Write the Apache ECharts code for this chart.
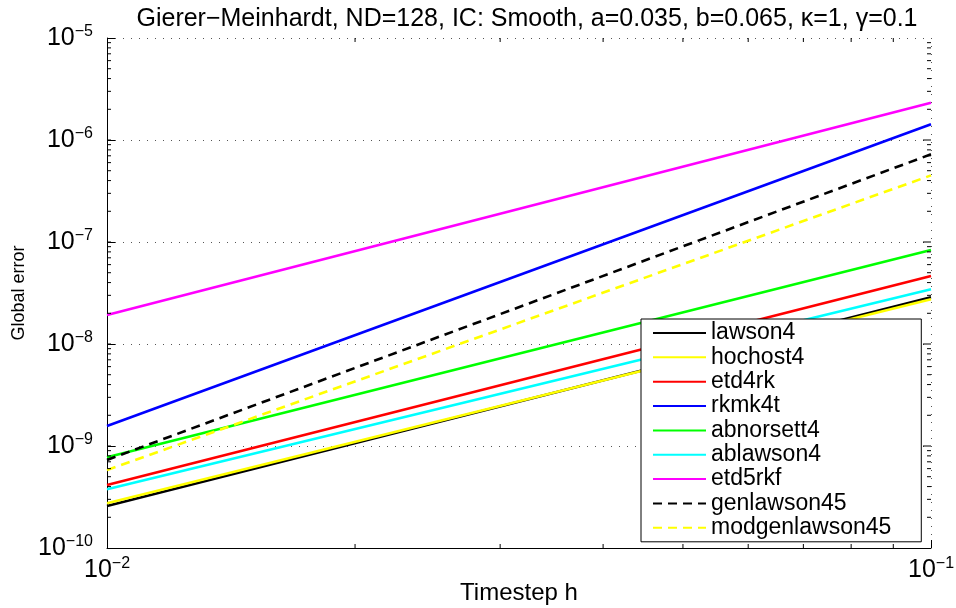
<!DOCTYPE html>
<html>
<head>
<meta charset="utf-8">
<script src="https://cdn.jsdelivr.net/npm/echarts@6/dist/echarts.min.js"></script>
<style>
  html, body { margin: 0; padding: 0; background: #fff; }
  #chart { width: 956px; height: 608px; }
</style>
</head>
<body>
<div id="chart"></div>
<script>
// timestep values (endpoints of each error curve)
const steps = [0.01, 0.1];

// global error per method
const lawson4 = [2.58e-10, 2.87e-8];
const hochost4 = [2.75e-10, 2.74e-8];
const etd4rk = [4.15e-10, 4.65e-8];
const rkmk4t = [1.57e-9, 1.43e-6];
const abnorsett4 = [7.75e-10, 8.35e-8];
const ablawson4 = [3.76e-10, 3.44e-8];
const etd5rkf = [1.92e-8, 2.32e-6];
const genlawson45 = [7.3e-10, 7.24e-7];
const modgenlawson45 = [5.8e-10, 4.5e-7];

const names = ["lawson4", "hochost4", "etd4rk", "rkmk4t", "abnorsett4",
  "ablawson4", "etd5rkf", "genlawson45", "modgenlawson45"];
const values = [lawson4, hochost4, etd4rk, rkmk4t, abnorsett4,
  ablawson4, etd5rkf, genlawson45, modgenlawson45];
const colors = ["#000000", "#ffff00", "#ff0000", "#0000ff", "#00ff00",
  "#00ffff", "#ff00ff", "#000000", "#ffff00"];
const dashed = [false, false, false, false, false, false, false, true, true];

// axis ranges (decades)
const xMin = 0.01, xMax = 0.1;
const yMin = 1e-10, yMax = 1e-5;

// minor tick positions 2..9 x 10^k
const xMinor = [];
for (let k = 2; k <= 9; k++) xMinor.push(k * 0.01);
const yMinor = [];
for (let e = -10; e <= -6; e++) {
  for (let k = 2; k <= 9; k++) yMinor.push(k * Math.pow(10, e));
}

const font = "'Liberation Sans', Arial, sans-serif";
const supLabel = (v) => {
  const e = Math.round(Math.log10(v));
  return "{b|10}{s|" + (e < 0 ? "\u2212" + (-e) : e) + "}";
};
const richSup = {
  b: { fontSize: 25, fontFamily: font, color: "#000" },
  s: { fontSize: 16, fontFamily: font, color: "#000", verticalAlign: "top", padding: [0, 0, 12, 0] }
};

const series = names.map((n, i) => ({
  name: n,
  type: "line",
  data: steps.map((h, j) => [h, values[i][j]]),
  symbol: "none",
  lineStyle: {
    color: colors[i],
    width: 2.6,
    type: dashed[i] ? [9, 6] : "solid"
  },
  itemStyle: { color: colors[i] },
  animation: false
}));

// box ticks (minor on all sides, major on right/top)
series.push({
  type: "custom",
  silent: true,
  z: 5,
  data: yMinor.map((v) => [xMin, v, 4]).concat([1e-9, 1e-8, 1e-7, 1e-6].map((v) => [xMin, v, 8])),
  renderItem: (params, api) => {
    const a = api.coord([xMin, api.value(1)]);
    const b = api.coord([xMax, api.value(1)]);
    const len = api.value(2);
    const st = { stroke: "#000", lineWidth: 1 };
    return {
      type: "group",
      children: [
        { type: "line", shape: { x1: a[0], y1: a[1], x2: a[0] + 4, y2: a[1] }, style: st },
        { type: "line", shape: { x1: b[0], y1: b[1], x2: b[0] - len, y2: b[1] }, style: st }
      ]
    };
  },
  animation: false
});
series.push({
  type: "custom",
  silent: true,
  z: 5,
  data: xMinor.map((v) => [v, yMin]),
  renderItem: (params, api) => {
    const a = api.coord([api.value(0), yMin]);
    const b = api.coord([api.value(0), yMax]);
    const st = { stroke: "#000", lineWidth: 1 };
    return {
      type: "group",
      children: [
        { type: "line", shape: { x1: a[0], y1: a[1], x2: a[0], y2: a[1] - 4 }, style: st },
        { type: "line", shape: { x1: b[0], y1: b[1], x2: b[0], y2: b[1] + 4 }, style: st }
      ]
    };
  },
  animation: false
});

const chart = echarts.init(document.getElementById("chart"));
chart.setOption({
  backgroundColor: "#fff",
  animation: false,
  title: {
    text: "Gierer\u2212Meinhardt, ND=128, IC: Smooth, a=0.035, b=0.065, \u03ba=1, \u03b3=0.1",
    left: 522,
    textAlign: "center",
    top: 2,
    textStyle: { fontFamily: font, fontSize: 25, fontWeight: "normal", color: "#000" }
  },
  grid: { left: 107, right: 25, top: 38, bottom: 60, outerBoundsMode: "none" },
  legend: {
    data: names,
    orient: "vertical",
    left: 641,
    top: 319,
    itemWidth: 53,
    itemHeight: 14,
    itemGap: 1.35,
    padding: [2.5, 30, 2.5, 11],
    backgroundColor: "#fff",
    borderColor: "#000",
    borderWidth: 1,
    borderRadius: 0,
    itemStyle: { opacity: 0 },
    textStyle: { fontFamily: font, fontSize: 23, color: "#000" },
    selectedMode: false
  },
  xAxis: {
    type: "log",
    logBase: 10,
    min: xMin,
    max: xMax,
    interval: 1,
    name: "Timestep h",
    nameLocation: "middle",
    nameGap: 33,
    nameMoveOverlap: false,
    nameTextStyle: { fontFamily: font, fontSize: 24, color: "#000" },
    axisLine: { lineStyle: { color: "#000", width: 1 } },
    axisTick: { inside: true, length: 8, lineStyle: { color: "#000" } },
    axisLabel: { formatter: supLabel, rich: richSup, margin: 8 },
    splitLine: { show: true, lineStyle: { color: "#555", width: 1, type: [1, 7] } }
  },
  yAxis: {
    type: "log",
    logBase: 10,
    min: yMin,
    max: yMax,
    interval: 1,
    name: "Global error",
    nameLocation: "middle",
    nameRotate: 90,
    nameGap: 79,
    nameMoveOverlap: false,
    nameTextStyle: { fontFamily: font, fontSize: 18, color: "#000" },
    axisLine: { lineStyle: { color: "#000", width: 1 } },
    axisTick: { inside: true, length: 8, lineStyle: { color: "#000" } },
    axisLabel: { formatter: supLabel, rich: richSup, margin: 14 },
    splitLine: { show: true, lineStyle: { color: "#555", width: 1, type: [1, 7] } }
  },
  series: series
});
</script>
</body>
</html>
